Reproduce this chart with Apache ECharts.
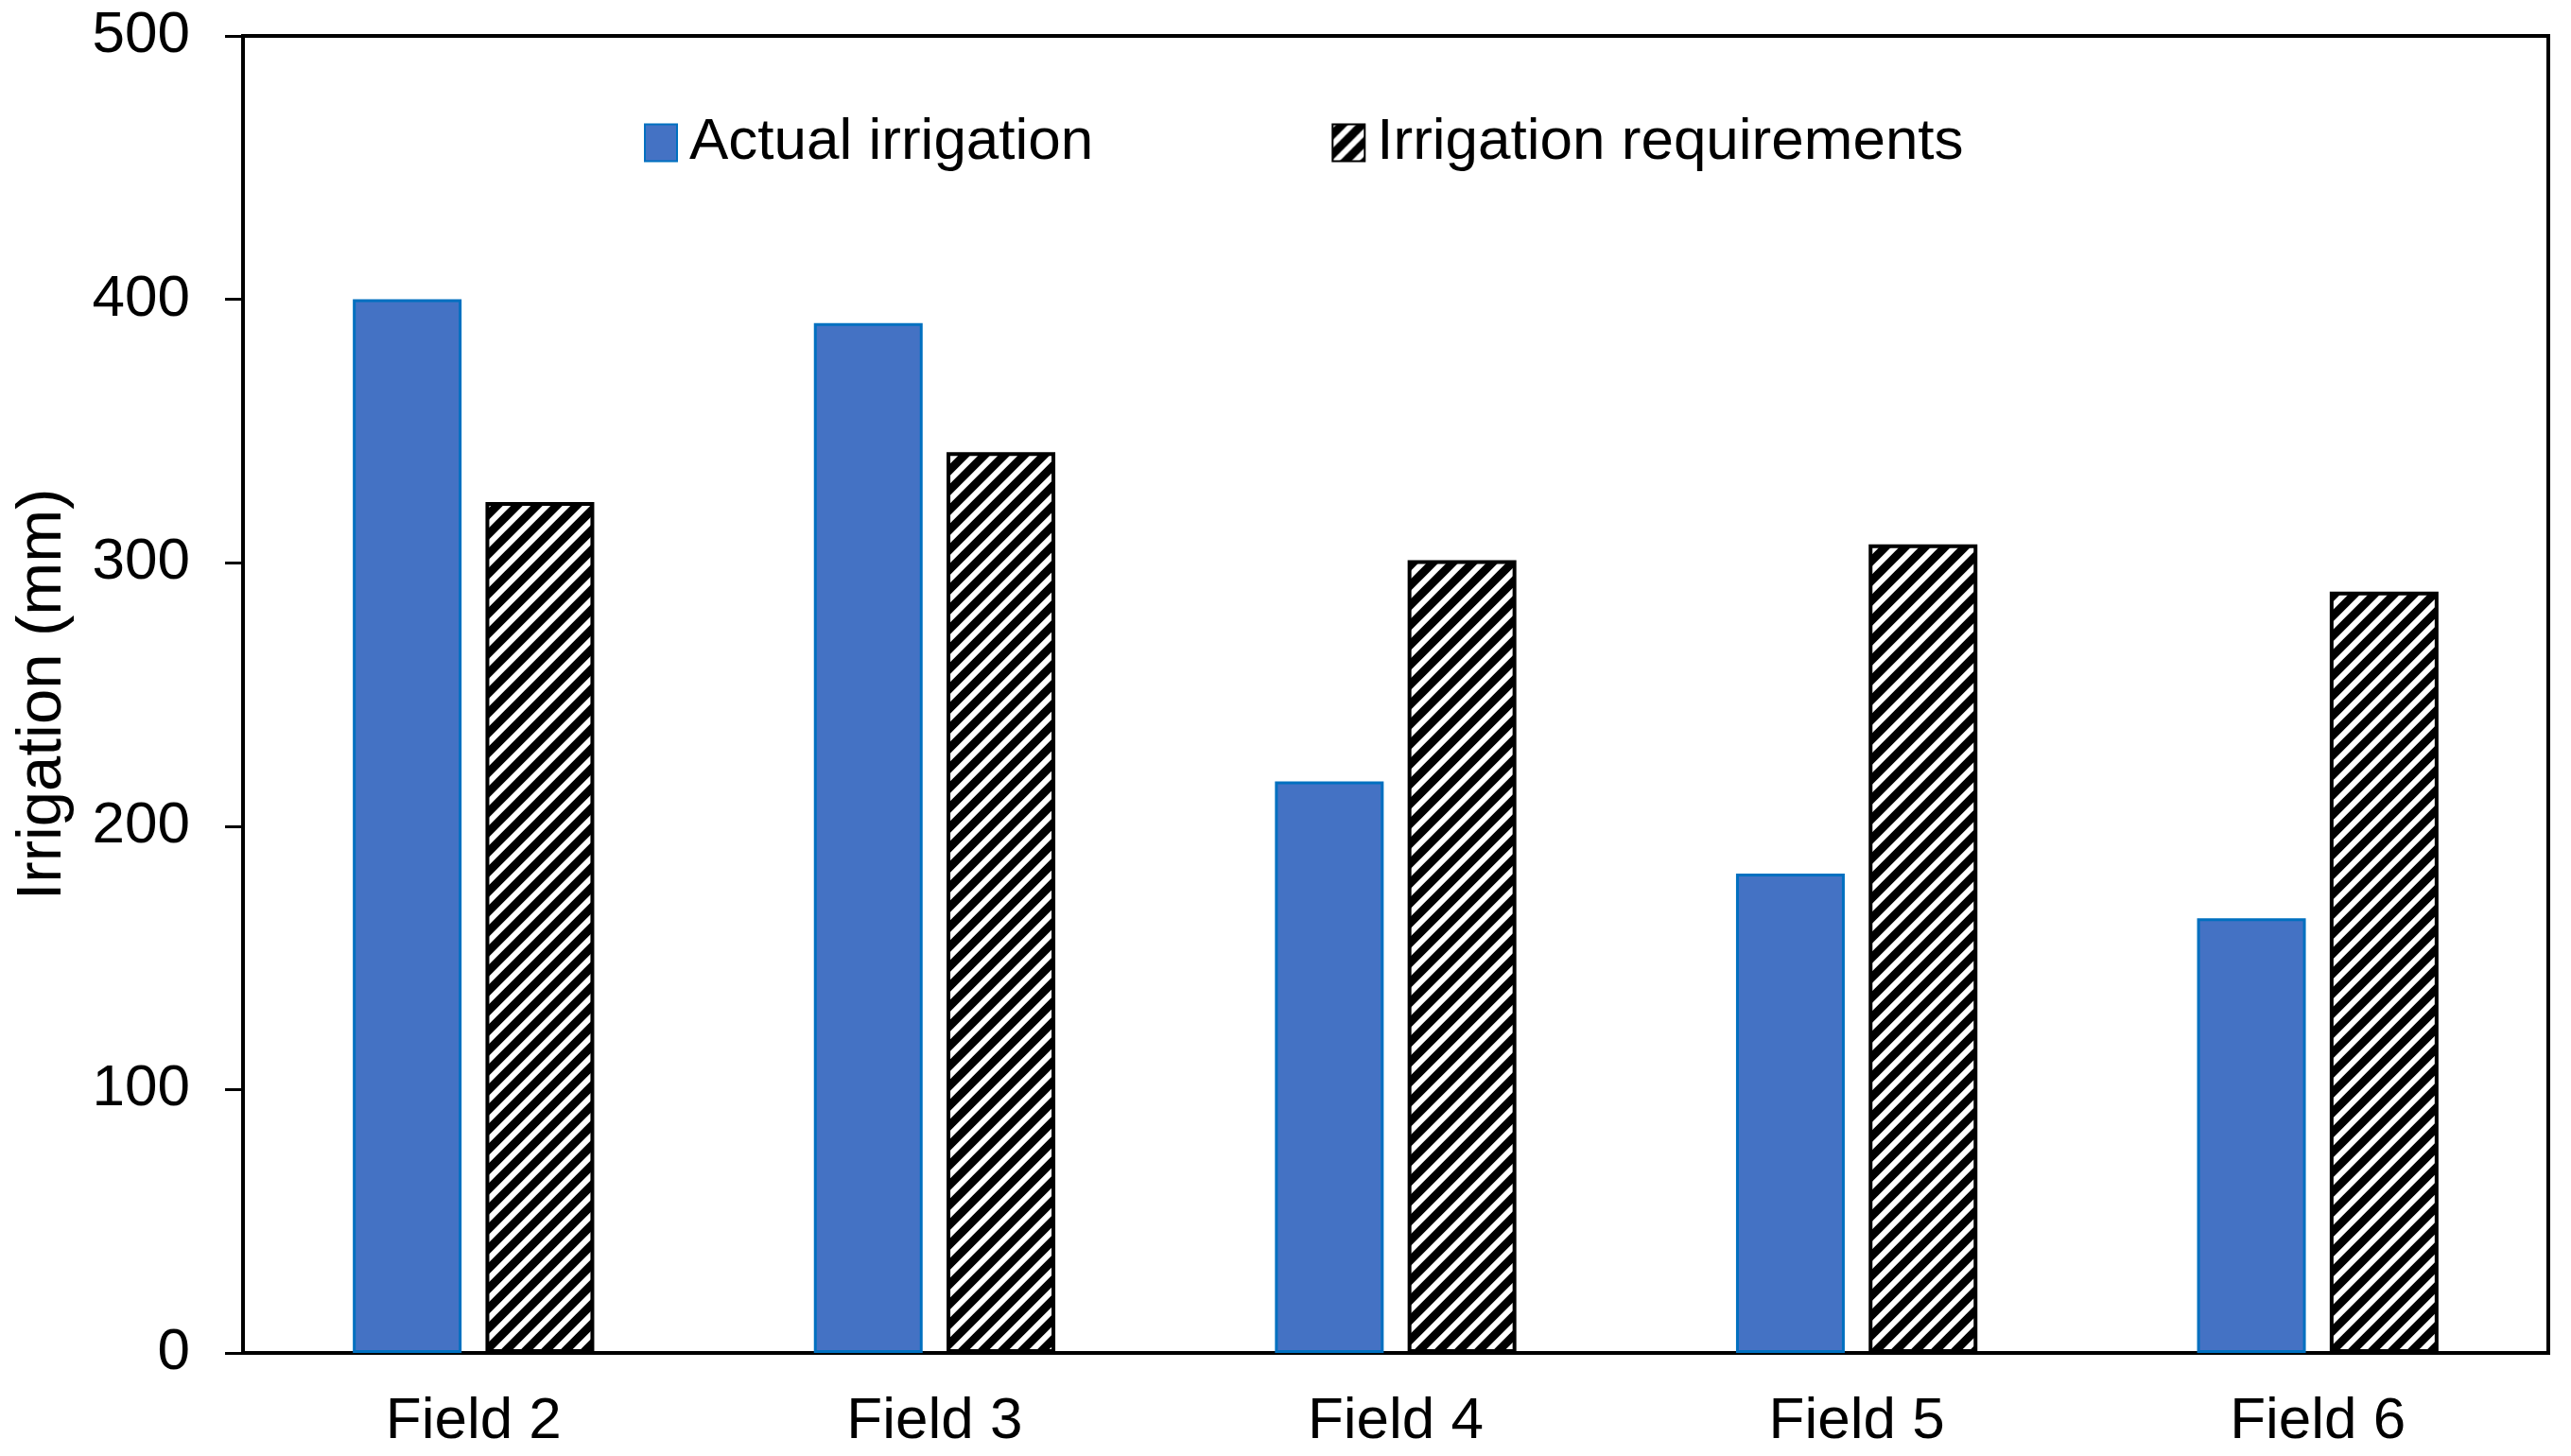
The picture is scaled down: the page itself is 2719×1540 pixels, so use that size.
<!DOCTYPE html>
<html>
<head>
<meta charset="utf-8">
<script src="https://cdn.jsdelivr.net/npm/echarts@6/dist/echarts.min.js"></script>
<style>
  html, body { margin: 0; padding: 0; background: #fff; }
  #chart { width: 2719px; height: 1540px; }
</style>
</head>
<body>
<div id="chart"></div>
<script>
const fields = ['Field 2', 'Field 3', 'Field 4', 'Field 5', 'Field 6']
const actualIrrigation = [400, 391, 217, 182, 165]
const irrigationRequirements = [323, 342, 301, 307, 289]
const yMin = 0
const yMax = 500
const yStep = 100

const font = '"Liberation Sans", Arial, sans-serif'

// black bar with white "/" stripes, like the Excel wide upward diagonal fill
function makeHatch() {
  const size = 21
  const c = document.createElement('canvas')
  c.width = size
  c.height = size
  const ctx = c.getContext('2d')
  ctx.fillStyle = '#000'
  ctx.fillRect(0, 0, size, size)
  ctx.strokeStyle = '#fff'
  ctx.lineWidth = 6
  ctx.beginPath()
  for (const k of [-size, 0, size]) {
    ctx.moveTo(-3, size + k + 3)
    ctx.lineTo(size + 3, k - 3)
  }
  ctx.stroke()
  return c
}

const chart = echarts.init(document.getElementById('chart'))
const option = {
  animation: false,
  backgroundColor: '#fff',
  textStyle: { fontFamily: font },
  grid: {
    left: 257,
    right: 24,
    top: 38,
    bottom: 109,
    show: true,
    borderColor: '#000',
    borderWidth: 4
  },
  legend: {
    left: 681,
    top: 120,
    padding: 0,
    icon: 'rect',
    itemWidth: 34,
    itemHeight: 39,
    itemGap: 252,
    textStyle: {
      fontSize: 62,
      color: '#000',
      lineHeight: 62,
      fontFamily: font,
      padding: [0, 0, 0, 8]
    },
    data: ['Actual irrigation', 'Irrigation requirements']
  },
  xAxis: {
    type: 'category',
    data: fields,
    axisLine: { lineStyle: { color: '#000', width: 4 } },
    axisTick: { length: 19, lineStyle: { color: '#000', width: 3 } },
    axisLabel: { fontSize: 62, color: '#000', margin: 42, fontFamily: font }
  },
  yAxis: {
    type: 'value',
    min: yMin,
    max: yMax,
    interval: yStep,
    name: 'Irrigation (mm)',
    nameLocation: 'middle',
    nameGap: 178,
    nameTextStyle: { fontSize: 67, color: '#000', fontFamily: font },
    axisLine: { show: true, lineStyle: { color: '#000', width: 4 } },
    axisTick: { show: true, length: 19, lineStyle: { color: '#000', width: 3 } },
    axisLabel: { fontSize: 62, color: '#000', margin: 56, fontFamily: font },
    splitLine: { show: false }
  },
  series: [
    {
      name: 'Actual irrigation',
      type: 'bar',
      data: actualIrrigation,
      barWidth: 115,
      barGap: '22%',
      itemStyle: { color: '#4472C4', borderColor: '#0070C0', borderWidth: 3 }
    },
    {
      name: 'Irrigation requirements',
      type: 'bar',
      data: irrigationRequirements,
      barWidth: 115,
      itemStyle: {
        color: { image: makeHatch(), repeat: 'repeat' },
        borderColor: '#000',
        borderWidth: 4
      }
    }
  ]
}
chart.setOption(option)
</script>
</body>
</html>
